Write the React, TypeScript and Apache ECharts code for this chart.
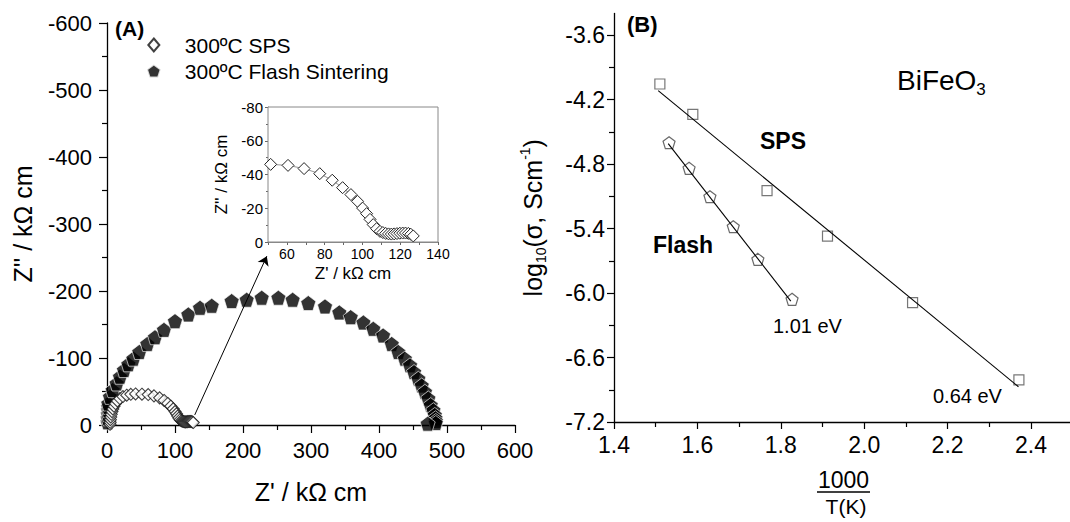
import React, { useEffect, useRef } from "react";
import * as echarts from "echarts";

// ---------- Panel A: Nyquist data (Z', Z'') in kΩ cm ----------
const spsNyquist: [number, number][] = [
  [4.5, -1], [4.7, -4], [5, -8], [5.5, -12], [6.3, -16], [7.3, -20], [8.6, -24], [10.3, -28],
  [12.5, -32], [15.3, -36], [19, -39.5], [23.5, -42.5], [29, -44.5], [35, -45.8], [42, -46.3],
  [51.4, -46], [60.6, -45.4], [69.1, -43.5], [77.4, -40.5], [84, -36.6], [89.5, -32.2],
  [93.9, -28.1], [97.4, -24.1], [100.1, -20.1], [102.2, -16.8], [104, -13.4], [105.7, -10.3],
  [107.5, -7.9], [109.3, -6.3], [110.8, -5.6], [112.3, -5.1], [113.8, -4.8], [115.3, -4.7],
  [116.8, -4.8], [118.3, -5], [119.8, -5.2], [121.3, -5.3], [122.8, -5.3], [124.3, -5.1],
  [125.6, -4.6], [126.9, -3.6],
];
const flashNyquist: [number, number][] = [
  [1, -4], [1.2, -10], [1.4, -16], [1.6, -22], [1.8, -27], [1.9, -32], [4.4, -42], [8.3, -52],
  [14.2, -62], [19.1, -72], [25, -82], [31.4, -90.6], [38.7, -99], [47.5, -109], [59.3, -121],
  [70.6, -131], [83.8, -142], [100, -155], [119.6, -165], [136.8, -175], [154, -178],
  [183.3, -185], [205.4, -187], [227.5, -190], [252, -190], [273, -187], [296, -182],
  [320.6, -177], [341.6, -168], [358.4, -161], [377, -153], [391.6, -143.6], [406, -133.7],
  [418.7, -121], [428.4, -109], [438, -99], [445.6, -89], [451.5, -79], [457.8, -69],
  [462.8, -59], [467.6, -49.5], [472.5, -39.6], [476, -29.7], [480, -22], [482, -15],
  [483, -10], [483.5, -6], [483.5, -3], [471.6, -2],
];
const arrowFrom: [number, number] = [129, -15];
const arrowTo: [number, number] = [235, -252];

const insetXLabels = [60, 80, 100, 120, 140];
const insetXTicks = [50, 60, 70, 80, 90, 100, 110, 120, 130, 140];

// ---------- Panel B: Arrhenius data ----------
const spsArrhenius: [number, number][] = [
  [1.51, -4.056], [1.589, -4.338], [1.767, -5.048], [1.912, -5.47], [2.116, -6.09], [2.371, -6.809],
];
const spsFit: [number, number][] = [[1.506, -4.118], [2.37, -6.872]];
const flashArrhenius: [number, number][] = [
  [1.532, -4.602], [1.58, -4.84], [1.63, -5.104], [1.686, -5.383], [1.745, -5.687], [1.827, -6.059],
];
const flashFit: [number, number][] = [[1.53, -4.61], [1.824, -6.075]];

const bXMajor = [1.4, 1.6, 1.8, 2.0, 2.2, 2.4];
const bXMinor = [1.5, 1.7, 1.9, 2.1, 2.3];
const bYMajor = [-7.2, -6.6, -6.0, -5.4, -4.8, -4.2, -3.6];
const bYMinor = [-6.9, -6.3, -5.7, -5.1, -4.5, -3.9];

const FONT = '"Liberation Sans", Arial, Helvetica, sans-serif';
const PENTAGON = "path://M0,-10L9.51,-3.09L5.88,8.09L-5.88,8.09L-9.51,-3.09Z";
const DIAMOND = "path://M0,-10L8.5,0L0,10L-8.5,0Z";
const SPS_NAME = "300ºC SPS";
const FLASH_NAME = "300ºC Flash Sintering";

const axisLineBlack = { show: true, lineStyle: { color: "#000", width: 1.3 } };
const lbl = (size: number, margin: number) => ({ color: "#000", fontSize: size, fontFamily: FONT, margin });

function buildOption() {
  return {
    animation: false,
    backgroundColor: "#fff",
    textStyle: { fontFamily: FONT },
    grid: [
      { left: 107, top: 23, width: 408, height: 402, outerBoundsMode: "none" },
      { left: 268, top: 107, width: 170, height: 135, show: true, borderColor: "#888", borderWidth: 1, backgroundColor: "#fff", outerBoundsMode: "none", z: 5 },
      { left: 614, top: 13.5, width: 458.7, height: 408.5, outerBoundsMode: "none" },
    ],
    legend: {
      orient: "vertical",
      left: 146,
      top: 34,
      padding: 0,
      itemWidth: 14,
      itemHeight: 13,
      itemGap: 4,
      selectedMode: false,
      textStyle: { fontSize: 21, fontFamily: FONT, color: "#000", lineHeight: 22, padding: [0, 0, 0, 19] },
      data: [
        { name: SPS_NAME, icon: DIAMOND },
        { name: FLASH_NAME, icon: PENTAGON },
      ],
    },
    xAxis: [
      {
        gridIndex: 0, type: "value", min: 0, max: 600, interval: 100,
        axisLine: axisLineBlack,
        axisTick: { show: true, length: 8, lineStyle: { color: "#000", width: 1.2 } },
        minorTick: { show: true, splitNumber: 2, length: 5, lineStyle: { color: "#000", width: 1.2 } },
        axisLabel: lbl(22, 14),
        splitLine: { show: false },
        name: "Z' / kΩ cm", nameLocation: "middle", nameGap: 54,
        nameTextStyle: { fontSize: 25, fontFamily: FONT, color: "#000" },
      },
      {
        gridIndex: 1, type: "value", min: 50, max: 140,
        axisLine: { show: true, lineStyle: { color: "#888", width: 1 } },
        axisTick: { show: true, length: 3, customValues: insetXTicks, lineStyle: { color: "#666" } },
        axisLabel: { ...lbl(14, 5), customValues: insetXLabels },
        splitLine: { show: false },
        name: "Z' / kΩ cm", nameLocation: "middle", nameGap: 23,
        nameTextStyle: { fontSize: 17, fontFamily: FONT, color: "#000" },
      },
      {
        gridIndex: 2, type: "value", min: 1.4, max: 2.5, interval: 0.2,
        axisLine: axisLineBlack,
        axisTick: { show: true, length: 7, customValues: bXMajor, lineStyle: { color: "#000", width: 1.2 } },
        axisLabel: { ...lbl(23, 11), customValues: bXMajor, formatter: (v: number) => v.toFixed(1) },
        splitLine: { show: false },
      },
      {
        gridIndex: 2, type: "value", min: 1.4, max: 2.5, position: "bottom",
        axisLine: { show: false },
        axisTick: { show: true, length: 5, customValues: bXMinor, lineStyle: { color: "#000", width: 1.2 } },
        axisLabel: { show: false },
        splitLine: { show: false },
      },
    ],
    yAxis: [
      {
        gridIndex: 0, type: "value", min: -600, max: 0, interval: 100, inverse: true,
        axisLine: axisLineBlack,
        axisTick: { show: true, length: 8, lineStyle: { color: "#000", width: 1.2 } },
        minorTick: { show: true, splitNumber: 2, length: 5, lineStyle: { color: "#000", width: 1.2 } },
        axisLabel: lbl(22, 15),
        splitLine: { show: false },
        name: "Z'' / kΩ cm", nameLocation: "middle", nameGap: 72,
        nameTextStyle: { fontSize: 25, fontFamily: FONT, color: "#000" },
      },
      {
        gridIndex: 1, type: "value", min: -80, max: 0, interval: 20, inverse: true,
        axisLine: { show: true, lineStyle: { color: "#888", width: 1 } },
        axisTick: { show: true, length: 3, lineStyle: { color: "#666" } },
        minorTick: { show: true, splitNumber: 2, length: 2, lineStyle: { color: "#666" } },
        axisLabel: lbl(15, 5),
        splitLine: { show: false },
        name: "Z'' / kΩ cm", nameLocation: "middle", nameGap: 38,
        nameTextStyle: { fontSize: 17, fontFamily: FONT, color: "#000" },
      },
      {
        gridIndex: 2, type: "value", min: -7.2, max: -3.4, interval: 0.6,
        axisLine: axisLineBlack,
        axisTick: { show: true, length: 7, customValues: bYMajor, lineStyle: { color: "#000", width: 1.2 } },
        axisLabel: { ...lbl(23, 9), customValues: bYMajor, formatter: (v: number) => v.toFixed(1) },
        splitLine: { show: false },
        name: "{n|log}{sub|10}{n|(σ, Scm}{sup|-1}{n|)}",
        nameLocation: "middle", nameGap: 66,
        nameTextStyle: {
          fontSize: 25, fontFamily: FONT, color: "#000",
          rich: {
            n: { fontSize: 25, fontFamily: FONT, color: "#000", lineHeight: 30, verticalAlign: "middle" },
            sub: { fontSize: 14, fontFamily: FONT, color: "#000", verticalAlign: "bottom", lineHeight: 30 },
            sup: { fontSize: 14, fontFamily: FONT, color: "#000", verticalAlign: "top", lineHeight: 30 },
          },
        },
      },
      {
        gridIndex: 2, type: "value", min: -7.2, max: -3.4, position: "left",
        axisLine: { show: false },
        axisTick: { show: true, length: 5, customValues: bYMinor, lineStyle: { color: "#000", width: 1.2 } },
        axisLabel: { show: false },
        splitLine: { show: false },
      },
    ],
    series: [
      {
        name: FLASH_NAME, type: "scatter", xAxisIndex: 0, yAxisIndex: 0,
        data: flashNyquist, symbol: PENTAGON, symbolSize: 15,
        itemStyle: { color: "#000", borderColor: "#fff", borderWidth: 0.8 },
      },
      {
        name: SPS_NAME, type: "scatter", xAxisIndex: 0, yAxisIndex: 0,
        data: spsNyquist, symbol: DIAMOND, symbolSize: 12,
        itemStyle: { color: "#fff", borderColor: "#111", borderWidth: 1.1 },
        markLine: {
          silent: true, symbol: ["none", "arrow"], symbolSize: 9,
          lineStyle: { color: "#000", width: 1, type: "solid" },
          label: { show: false },
          data: [[{ coord: arrowFrom }, { coord: arrowTo }]],
        },
      },
      {
        name: "inset SPS", type: "line", xAxisIndex: 1, yAxisIndex: 1, z: 6,
        data: spsNyquist.filter((p) => p[0] >= 50),
        symbol: DIAMOND, symbolSize: 12, showSymbol: true,
        lineStyle: { color: "#777", width: 0.8 },
        itemStyle: { color: "#fff", borderColor: "#222", borderWidth: 1 },
      },
      {
        name: "SPS fit", type: "line", xAxisIndex: 2, yAxisIndex: 2,
        data: spsFit, showSymbol: false, symbol: "none",
        lineStyle: { color: "#000", width: 1.1 },
      },
      {
        name: "Flash fit", type: "line", xAxisIndex: 2, yAxisIndex: 2,
        data: flashFit, showSymbol: false, symbol: "none",
        lineStyle: { color: "#000", width: 1.1 },
      },
      {
        name: "SPS Arrhenius", type: "scatter", xAxisIndex: 2, yAxisIndex: 2,
        data: spsArrhenius, symbol: "rect", symbolSize: 10,
        itemStyle: { color: "#fff", borderColor: "#555", borderWidth: 1.2 },
      },
      {
        name: "Flash Arrhenius", type: "scatter", xAxisIndex: 2, yAxisIndex: 2,
        data: flashArrhenius, symbol: PENTAGON, symbolSize: 12,
        itemStyle: { color: "#fff", borderColor: "#444", borderWidth: 1.2 },
      },
    ],
    graphic: [
      { type: "text", x: 115, y: 28, style: { text: "(A)", fontSize: 21, fontWeight: "bold", fontFamily: FONT, fill: "#000", align: "left", verticalAlign: "middle" } },
      { type: "text", x: 627, y: 24, style: { text: "(B)", fontSize: 22, fontWeight: "bold", fontFamily: FONT, fill: "#000", align: "left", verticalAlign: "middle" } },
      { type: "text", x: 760, y: 141, style: { text: "SPS", fontSize: 23, fontWeight: "bold", fontFamily: FONT, fill: "#000", align: "left", verticalAlign: "middle" } },
      { type: "text", x: 653, y: 245, style: { text: "Flash", fontSize: 23, fontWeight: "bold", fontFamily: FONT, fill: "#000", align: "left", verticalAlign: "middle" } },
      {
        type: "text", x: 897, y: 80,
        style: {
          text: "{m|BiFeO}{s|3}", align: "left", verticalAlign: "middle",
          rich: {
            m: { fontSize: 28, fontFamily: FONT, fill: "#000", lineHeight: 36, verticalAlign: "middle" },
            s: { fontSize: 17, fontFamily: FONT, fill: "#000", lineHeight: 36, verticalAlign: "bottom" },
          },
        },
      },
      { type: "text", x: 773, y: 326, style: { text: "1.01 eV", fontSize: 20, fontFamily: FONT, fill: "#000", align: "left", verticalAlign: "middle" } },
      { type: "text", x: 933, y: 396, style: { text: "0.64 eV", fontSize: 20, fontFamily: FONT, fill: "#000", align: "left", verticalAlign: "middle" } },
      { type: "text", x: 843.5, y: 480, style: { text: "1000", fontSize: 23, fontFamily: FONT, fill: "#000", align: "center", verticalAlign: "middle" } },
      { type: "line", shape: { x1: 817, y1: 492, x2: 870, y2: 492 }, style: { stroke: "#000", lineWidth: 1.5 } },
      { type: "text", x: 846, y: 506, style: { text: "T(K)", fontSize: 21, fontFamily: FONT, fill: "#000", align: "center", verticalAlign: "middle" } },
    ],
  };
}

export default function App() {
  const ref = useRef<HTMLDivElement>(null);
  useEffect(() => {
    if (!ref.current) return;
    const chart = echarts.init(ref.current, null, { renderer: "svg" });
    chart.setOption(buildOption() as any);
    return () => chart.dispose();
  }, []);
  return (
    <div
      ref={ref}
      style={{ position: "fixed", left: 0, top: 0, width: 1070, height: 522, background: "#fff" }}
    />
  );
}
